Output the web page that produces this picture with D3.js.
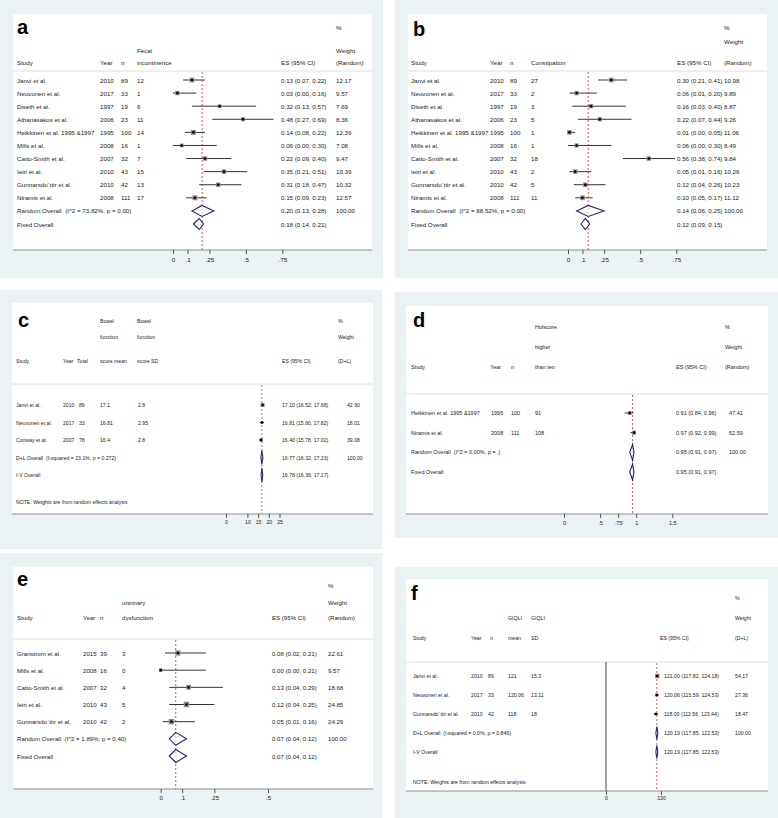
<!DOCTYPE html>
<html><head><meta charset="utf-8">
<script src="https://cdn.jsdelivr.net/npm/d3@7"></script>
<style>
body{margin:0;background:#fff}
svg{display:block}
text{font-family:"Liberation Sans",Arial,Helvetica,sans-serif;fill:#222;white-space:pre}
</style></head>
<body><svg id="chart" width="778" height="818"></svg>
<script>
// ---------------- DATA ----------------
// Panel a: Fecal incontinence
const aHeader = [["Study"],["Year"],["n"],["Fecal","incontinence"],["ES (95% CI)"],["%","Weight","(Random)"]];
const aStudies = ["Janvi et al.","Neuvonen et al.","Diseth et al.","Athanasakos et al.","Heikkinen et al. 1995 &1997","Mills et al.","Catto-Smith et al.","Ieiri et al.","Gunnarsdo´ttir et al.","Niramis et al."];
const aYear = [2010,2017,1997,2006,1995,2008,2007,2010,2010,2008];
const aN = [89,33,19,23,100,16,32,43,42,111];
const aEvents = [12,1,6,11,14,1,7,15,13,17];
const aES = [0.13,0.03,0.32,0.48,0.14,0.06,0.22,0.35,0.31,0.15];
const aLo = [0.07,0.00,0.13,0.27,0.08,0.00,0.09,0.21,0.18,0.09];
const aHi = [0.22,0.16,0.57,0.69,0.22,0.30,0.40,0.51,0.47,0.23];
const aWeight = [12.17,9.57,7.69,8.36,12.39,7.08,9.47,10.39,10.32,12.57];
const aOverallLabels = ["Random Overall  (I^2 = 73.82%, p = 0.00)","Fixed Overall"];
const aOverallES = [0.20,0.18];
const aOverallLo = [0.13,0.14];
const aOverallHi = [0.28,0.21];
const aOverallWeight = [100.00,null];
const aTicks = [0,0.1,0.25,0.5,0.75];
const aTickLabels = ["0",".1",".25",".5",".75"];

// Panel b: Constipation
const bHeader = [["Study"],["Year"],["n"],["Constipation"],["ES (95% CI)"],["%","Weight","(Random)"]];
const bStudies = ["Janvi et al.","Neuvonen et al.","Diseth et al.","Athanasakos et al.","Heikkinen et al. 1995 &1997","Mills et al.","Catto-Smith et al.","Ieiri et al.","Gunnarsdo´ttir et al.","Niramis et al."];
const bYear = [2010,2017,1997,2006,1995,2008,2007,2010,2010,2008];
const bN = [89,33,19,23,100,16,32,43,42,111];
const bEvents = [27,2,3,5,1,1,18,2,5,11];
const bES = [0.30,0.06,0.16,0.22,0.01,0.06,0.56,0.05,0.12,0.10];
const bLo = [0.21,0.01,0.03,0.07,0.00,0.00,0.38,0.01,0.04,0.05];
const bHi = [0.41,0.20,0.40,0.44,0.05,0.30,0.74,0.16,0.26,0.17];
const bWeight = [10.98,9.89,8.87,9.26,11.06,8.49,9.84,10.26,10.23,11.12];
const bOverallLabels = ["Random Overall  (I^2 = 88.52%, p = 0.00)","Fixed Overall"];
const bOverallES = [0.14,0.12];
const bOverallLo = [0.06,0.09];
const bOverallHi = [0.25,0.15];
const bOverallWeight = [100.00,null];
const bTicks = [0,0.1,0.25,0.5,0.75];
const bTickLabels = ["0",".1",".25",".5",".75"];

// Panel c: Bowel function score
const cHeader = [["Study"],["Year"],["Total"],["Bowel","function","score mean"],["Bowel","function","score SD"],["ES (95% CI)"],["%","Weight","(D+L)"]];
const cStudies = ["Janvi et al.","Neuvonen et al.","Conway et al."];
const cYear = [2010,2017,2007];
const cTotal = [89,33,78];
const cMean = [17.1,16.81,16.4];
const cSD = [2.8,2.95,2.8];
const cES = [17.10,16.81,16.40];
const cLo = [16.52,15.80,15.78];
const cHi = [17.68,17.82,17.02];
const cWeight = [42.90,18.01,39.08];
const cOverallLabels = ["D+L Overall  (I-squared = 23.1%, p = 0.272)","I-V Overall"];
const cOverallES = [16.77,16.78];
const cOverallLo = [16.32,16.39];
const cOverallHi = [17.23,17.17];
const cOverallWeight = [100.00,null];
const cNote = "NOTE: Weights are from random effects analysis";
const cTicks = [0,10,15,20,25];
const cTickLabels = ["0","10","15","20","25"];

// Panel d: Holscore higher than ten
const dHeader = [["Study"],["Year"],["n"],["Holscore","higher","than ten"],["ES (95% CI)"],["%","Weight","(Random)"]];
const dStudies = ["Heikkinen et al. 1995 &1997","Niramis et al."];
const dYear = [1995,2008];
const dN = [100,111];
const dEvents = [91,108];
const dES = [0.91,0.97];
const dLo = [0.84,0.92];
const dHi = [0.96,0.99];
const dWeight = [47.41,52.59];
const dOverallLabels = ["Random Overall  (I^2 = 0.00%, p = .)","Fixed Overall"];
const dOverallES = [0.95,0.95];
const dOverallLo = [0.91,0.91];
const dOverallHi = [0.97,0.97];
const dOverallWeight = [100.00,null];
const dTicks = [0,0.5,0.75,1,1.5];
const dTickLabels = ["0",".5",".75","1","1.5"];

// Panel e: Urinary dysfunction
const eHeader = [["Study"],["Year"],["n"],["unirinary","dysfunction"],["ES (95% CI)"],["%","Weight","(Random)"]];
const eStudies = ["Granstrom et al.","Mills et al.","Catto-Smith et al.","Ieiri et al.","Gunnarsdo´ttir et al."];
const eYear = [2015,2008,2007,2010,2010];
const eN = [39,16,32,43,42];
const eEvents = [3,0,4,5,2];
const eES = [0.08,0.00,0.13,0.12,0.05];
const eLo = [0.02,0.00,0.04,0.04,0.01];
const eHi = [0.21,0.21,0.29,0.25,0.16];
const eWeight = [22.61,9.57,18.68,24.85,24.29];
const eOverallLabels = ["Random Overall  (I^2 = 1.89%, p = 0.40)","Fixed Overall"];
const eOverallES = [0.07,0.07];
const eOverallLo = [0.04,0.04];
const eOverallHi = [0.12,0.12];
const eOverallWeight = [100.00,null];
const eTicks = [0,0.1,0.25,0.5];
const eTickLabels = ["0",".1",".25",".5"];

// Panel f: GIQLI
const fHeader = [["Study"],["Year"],["n"],["GIQLI","mean"],["GIQLI","SD"],["ES (95% CI)"],["%","Weight","(D+L)"]];
const fStudies = ["Janvi et al.","Neuvonen et al.","Gunnarsdo´ttir et al."];
const fYear = [2010,2017,2010];
const fN = [89,33,42];
const fMean = [121,120.06,118];
const fSD = [15.3,13.11,18];
const fES = [121.00,120.06,118.00];
const fLo = [117.82,115.59,112.56];
const fHi = [124.18,124.53,123.44];
const fWeight = [54.17,27.36,18.47];
const fOverallLabels = ["D+L Overall  (I-squared = 0.0%, p = 0.846)","I-V Overall"];
const fOverallES = [120.19,120.19];
const fOverallLo = [117.85,117.85];
const fOverallHi = [122.53,122.53];
const fOverallWeight = [100.00,null];
const fNote = "NOTE: Weights are from random effects analysis";
const fTicks = [0,130];
const fTickLabels = ["0","130"];

// ---------------- LAYOUT ----------------
const panels = [
  {key:"a", header:aHeader, studies:aStudies, cols:[aYear,aN,aEvents], es:aES, lo:aLo, hi:aHi, wt:aWeight,
   ov:{labels:aOverallLabels, es:aOverallES, lo:aOverallLo, hi:aOverallHi, wt:aOverallWeight},
   ticks:aTicks, tickLabels:aTickLabels, domain:[0,0.75],
   L:{outer:[0,0,383,278], inner:[13,14,372,250], letter:[17,34], fs:6.2,
      headX:[17,100,121,137,281,336], headY:[27,50,62], valX:[17,100,121,137,281,336],
      sep:71, rowY:[80,224], axisY:250, tickPad:4, range:[173,282.3], boxK:1.4, dH:11}},
  {key:"b", header:bHeader, studies:bStudies, cols:[bYear,bN,bEvents], es:bES, lo:bLo, hi:bHi, wt:bWeight,
   ov:{labels:bOverallLabels, es:bOverallES, lo:bOverallLo, hi:bOverallHi, wt:bOverallWeight},
   ticks:bTicks, tickLabels:bTickLabels, domain:[0,0.75],
   L:{outer:[395,0,778,278], inner:[408,14,767,250], letter:[413,36], fs:6.2,
      headX:[411,490,510,531,677,724], headY:[27,41,62], valX:[411,490,510,531,677,724],
      sep:71, rowY:[80,224], axisY:250, tickPad:4, range:[568,676.3], boxK:1.4, dH:11}},
  {key:"c", header:cHeader, studies:cStudies, cols:[cYear,cTotal,cMean,cSD], es:cES, lo:cLo, hi:cHi, wt:cWeight,
   ov:{labels:cOverallLabels, es:cOverallES, lo:cOverallLo, hi:cOverallHi, wt:cOverallWeight}, note:cNote,
   ticks:cTicks, tickLabels:cTickLabels, domain:[0,25],
   L:{outer:[0,290,382,549], inner:[12,303,373,514], letter:[18,327], fs:5.15,
      headX:[16,63,77,100,137,282,338], headY:[321,337,361], valX:[16,63,79,100,138,282,347],
      sep:384, rowY:[405,475], noteY:502, axisY:514, tickPad:2, range:[226,279.5], boxK:0.6, dH:14}},
  {key:"d", header:dHeader, studies:dStudies, cols:[dYear,dN,dEvents], es:dES, lo:dLo, hi:dHi, wt:dWeight,
   ov:{labels:dOverallLabels, es:dOverallES, lo:dOverallLo, hi:dOverallHi, wt:dOverallWeight},
   ticks:dTicks, tickLabels:dTickLabels, domain:[0,1.5],
   L:{outer:[395,292,778,538], inner:[406,306,768,514], letter:[413,327], fs:5.5,
      headX:[411,490,511,535,676,725], headY:[327,347,367], valX:[411,491,511,535,676,729],
      sep:394, rowY:[413,472], axisY:514, tickPad:3, range:[564,672.3], boxK:0.55, dH:16}},
  {key:"e", header:eHeader, studies:eStudies, cols:[eYear,eN,eEvents], es:eES, lo:eLo, hi:eHi, wt:eWeight,
   ov:{labels:eOverallLabels, es:eOverallES, lo:eOverallLo, hi:eOverallHi, wt:eOverallWeight},
   ticks:eTicks, tickLabels:eTickLabels, domain:[0,0.5],
   L:{outer:[0,553,382,818], inner:[13,567,373,789], letter:[17,586], fs:6.1,
      headX:[17,83,100,122,272,328], headY:[585,602,617], valX:[17,83,100,122,272,328],
      sep:639, rowY:[653,756], axisY:789, tickPad:3, range:[160.7,268], boxK:1.1, dH:13}},
  {key:"f", header:fHeader, studies:fStudies, cols:[fYear,fN,fMean,fSD], es:fES, lo:fLo, hi:fHi, wt:fWeight,
   ov:{labels:fOverallLabels, es:fOverallES, lo:fOverallLo, hi:fOverallHi, wt:fOverallWeight}, note:fNote,
   ticks:fTicks, tickLabels:fTickLabels, domain:[0,130],
   L:{outer:[395,567,778,818], inner:[406,579,768,791], letter:[411,600], fs:5.2,
      headX:[413,471,490,508,531,660,735], headY:[598,618,638], valX:[413,471,488,508,531,664,735],
      sep:662, rowY:[676,752], noteY:782, axisY:791, tickPad:1, range:[606,661], boxK:0.6, dH:13, nullLine:true}}
];

const svg = d3.select("#chart");
const f2 = d3.format(".2f");
const NAVY = "#25257a", DASH = "#c0504d", GREYBG = "#eaf2f3";

panels.forEach(P => {
  const L = P.L;
  const g = svg.append("g").attr("class","panel-"+P.key);
  g.append("rect").attr("x",L.outer[0]).attr("y",L.outer[1])
    .attr("width",L.outer[2]-L.outer[0]).attr("height",L.outer[3]-L.outer[1]).attr("fill",GREYBG);
  g.append("rect").attr("x",L.inner[0]).attr("y",L.inner[1])
    .attr("width",L.inner[2]-L.inner[0]).attr("height",L.inner[3]-L.inner[1]).attr("fill","#fff");

  g.append("text").attr("x",L.letter[0]).attr("y",L.letter[1])
    .attr("font-size",20).attr("font-weight","bold").style("fill","#000").text(P.key);

  // headers (bottom aligned)
  P.header.forEach((lines,ci) => {
    lines.forEach((t,li) => {
      const yy = L.headY[L.headY.length - lines.length + li];
      g.append("text").attr("x",L.headX[ci]).attr("y",yy).attr("dominant-baseline","central")
        .attr("font-size",L.fs).text(t);
    });
  });
  g.append("line").attr("x1",L.inner[0]).attr("x2",L.inner[2]).attr("y1",L.sep).attr("y2",L.sep)
    .attr("stroke","#dedede").attr("stroke-width",1);

  const nRows = P.studies.length + P.ov.labels.length;
  const y = d3.scaleLinear().domain([0,nRows-1]).range(L.rowY);
  const x = d3.scaleLinear().domain(P.domain).range(L.range);

  // null line
  if (L.nullLine) {
    g.append("line").attr("x1",x(0)).attr("x2",x(0)).attr("y1",L.sep).attr("y2",L.axisY)
      .attr("stroke","#8c8c8c").attr("stroke-width",1.6);
  }
  // overall dashed line
  g.append("line").attr("x1",x(P.ov.es[0])).attr("x2",x(P.ov.es[0]))
    .attr("y1",L.sep+1).attr("y2",L.axisY)
    .attr("stroke",DASH).attr("stroke-width",0.9).attr("stroke-dasharray","2,2");

  // study rows
  P.studies.forEach((s,i) => {
    const yy = y(i);
    const vals = [s].concat(P.cols.map(c => c[i])).concat([`${f2(P.es[i])} (${f2(P.lo[i])}, ${f2(P.hi[i])})`, f2(P.wt[i])]);
    vals.forEach((v,ci) => {
      g.append("text").attr("x",L.valX[ci]).attr("y",yy).attr("dominant-baseline","central")
        .attr("font-size",L.fs).text(v);
    });
    g.append("line").attr("x1",x(P.lo[i])).attr("x2",x(P.hi[i])).attr("y1",yy).attr("y2",yy)
      .attr("stroke","#333").attr("stroke-width",1);
    const side = L.boxK*Math.sqrt(P.wt[i]);
    g.append("rect").attr("x",x(P.es[i])-side/2).attr("y",yy-side/2).attr("width",side).attr("height",side)
      .attr("fill","#8a8a8a");
    g.append("circle").attr("cx",x(P.es[i])).attr("cy",yy).attr("r",1.3).attr("fill","#000");
  });

  // overall rows
  const nC = L.valX.length;
  P.ov.labels.forEach((lab,j) => {
    const yy = y(P.studies.length + j);
    g.append("text").attr("x",L.valX[0]).attr("y",yy).attr("dominant-baseline","central")
      .attr("font-size",L.fs).text(lab);
    g.append("text").attr("x",L.valX[nC-2]).attr("y",yy).attr("dominant-baseline","central")
      .attr("font-size",L.fs).text(`${f2(P.ov.es[j])} (${f2(P.ov.lo[j])}, ${f2(P.ov.hi[j])})`);
    if (P.ov.wt[j] != null) {
      g.append("text").attr("x",L.valX[nC-1]).attr("y",yy).attr("dominant-baseline","central")
        .attr("font-size",L.fs).text(f2(P.ov.wt[j]));
    }
    const h = L.dH/2;
    const pts = [[x(P.ov.lo[j]),yy],[x(P.ov.es[j]),yy-h],[x(P.ov.hi[j]),yy],[x(P.ov.es[j]),yy+h]];
    g.append("polygon").attr("points",pts.map(p=>p.join(",")).join(" "))
      .attr("fill","#fff").attr("fill-opacity",0.6).attr("stroke",NAVY).attr("stroke-width",1.1);
  });

  if (P.note) {
    g.append("text").attr("x",L.valX[0]).attr("y",L.noteY).attr("dominant-baseline","central")
      .attr("font-size",L.fs).text(P.note);
  }

  // axis
  g.append("line").attr("x1",L.inner[0]).attr("x2",L.inner[2]).attr("y1",L.axisY).attr("y2",L.axisY)
    .attr("stroke","#8c8c8c").attr("stroke-width",1);
  const ax = d3.axisBottom(x).tickValues(P.ticks).tickFormat((d,i)=>P.tickLabels[i])
    .tickSize(4).tickPadding(L.tickPad);
  const ag = g.append("g").attr("transform",`translate(0,${L.axisY})`).call(ax);
  ag.select(".domain").remove();
  ag.selectAll(".tick line").attr("stroke","#555");
  ag.selectAll(".tick text").attr("font-size",L.fs).attr("font-family",null).style("fill","#222");
});
</script></body></html>
